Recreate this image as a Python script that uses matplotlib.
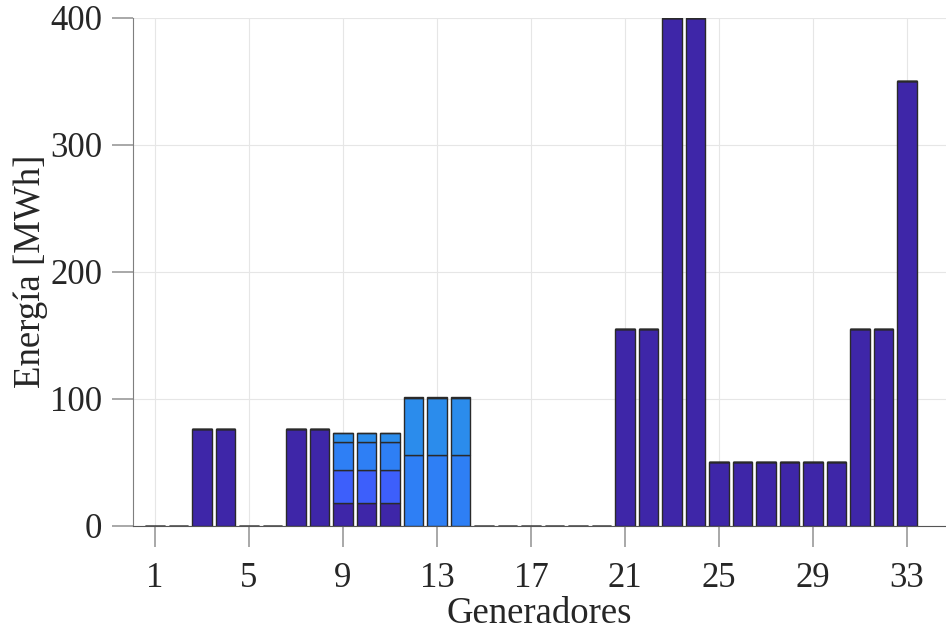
import numpy as np
import matplotlib
matplotlib.use("Agg")
import matplotlib.pyplot as plt

plt.rcParams['font.family'] = ['Liberation Serif', 'DejaVu Serif']

# generadores 1..33, energia por bloque [MWh]
generadores = np.arange(1, 34)
bloque1 = [0, 0, 76, 76, 0, 0, 76, 76, 17.6, 17.6, 17.6, 0, 0, 0,
           0, 0, 0, 0, 0, 0, 155, 155, 400, 400, 50, 50, 50, 50, 50, 50,
           155, 155, 350]
bloque2 = [0]*8 + [26.3, 26.3, 26.3] + [0]*22
bloque3 = [0]*8 + [22.2, 22.2, 22.2, 55.7, 55.7, 55.7] + [0]*19
bloque4 = [0]*8 + [6.6, 6.6, 6.6, 44.6, 44.6, 44.6] + [0]*19
bloque5 = [0]*11 + [1.3, 1.3, 1.3] + [0]*19

bloques = [bloque1, bloque2, bloque3, bloque4, bloque5]
colores = ['#3e26a8', '#3d5ffb', '#2e7ff5', '#2b8cec', '#d8c424']
xticks = [1, 5, 9, 13, 17, 21, 25, 29, 33]
yticks = [0, 100, 200, 300, 400]

fig = plt.figure(figsize=(9.46, 6.3), dpi=100)
ax = fig.add_axes([0.1406, 0.1656, 0.8594, 0.8064])

base = np.zeros(len(generadores))
for datos, c in zip(bloques, colores):
    datos = np.array(datos, dtype=float)
    ax.bar(generadores, datos, bottom=base, width=0.82, color=c,
           edgecolor='#2a2a2a', linewidth=1.0, zorder=3)
    base += datos

ax.set_xlim(0.064, 34.66)
ax.set_ylim(0, 400)
ax.set_xticks(xticks)
ax.set_yticks(yticks)
ax.grid(True, color='#e6e6e6', linewidth=0.8, zorder=0)

for s in ['top', 'right']:
    ax.spines[s].set_visible(False)
ax.spines['left'].set_color('#7f7f7f')
ax.spines['bottom'].set_color('#555555')
ax.tick_params(axis='both', direction='out', length=15, width=1.2,
               color='#999999', labelsize=25, labelcolor='#262626')
ax.tick_params(axis='x', pad=11)
ax.tick_params(axis='y', pad=7)

ax.set_xlabel('Generadores', fontsize=26.5, color='#262626', labelpad=1)
ax.set_ylabel('Energía [MWh]', fontsize=26.5, color='#262626', labelpad=2)

fig.savefig('out.png', dpi=100)
